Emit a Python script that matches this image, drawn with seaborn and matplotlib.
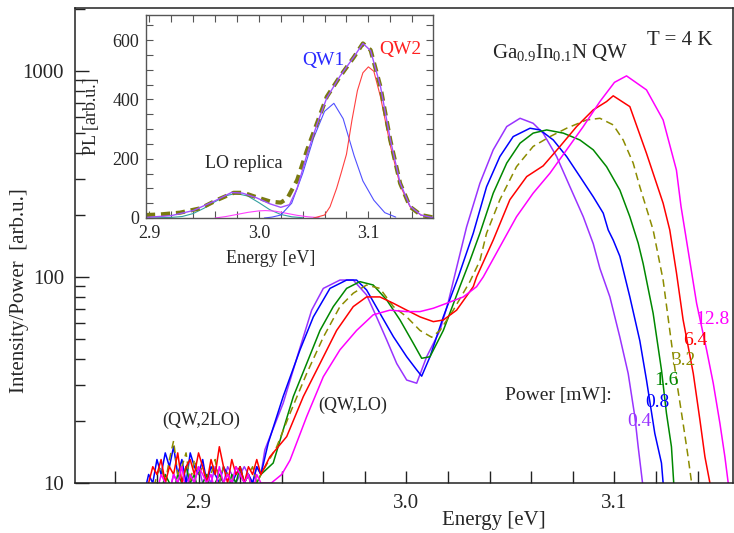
import numpy as np
import pandas as pd
import seaborn as sns
import matplotlib.pyplot as plt
from matplotlib.ticker import FixedLocator, NullFormatter

sns.set_style('ticks')
plt.rcParams['font.family'] = ['Liberation Serif', 'DejaVu Serif']
plt.rcParams['mathtext.fontset'] = 'custom'
plt.rcParams['mathtext.rm'] = 'Liberation Serif'
plt.rcParams['mathtext.it'] = 'Liberation Serif:italic'

# ---- main spectra: Intensity/Power vs energy ----
powers = ['0.4', '0.8', '1.6', '3.2', '6.4', '12.8']
colors = ['#9933ff', '#0000ff', '#008800', '#8c8c00', '#ff0000', '#ff00ff']

noise_e = [2.874, 2.876, 2.878, 2.880, 2.882, 2.884, 2.886, 2.888, 2.890, 2.892,
           2.894, 2.896, 2.898, 2.900, 2.902, 2.904, 2.906, 2.908, 2.910, 2.912,
           2.914, 2.916, 2.918, 2.920, 2.922, 2.924, 2.926, 2.928, 2.930]

noise_04 = [7, 8, 9, 8, 9, 10, 9, 11, 10, 9, 10, 11, 10, 12, 10, 11, 10, 12, 11, 10,
            12, 11, 10, 11, 12, 11, 10, 12, 11]
noise_08 = [9, 11, 10, 13, 11, 14, 12, 15, 11, 13, 10, 14, 12, 11, 13, 10, 12, 11, 10, 12,
            11, 10, 11, 12, 10, 11, 10, 12, 11]
noise_16 = [8, 9, 8, 10, 9, 11, 10, 9, 11, 10, 12, 10, 11, 9, 10, 11, 9, 10, 11, 10,
            9, 11, 10, 12, 10, 11, 9, 10, 11]
noise_32 = [8, 10, 9, 11, 12, 10, 13, 16, 11, 12, 14, 10, 13, 11, 12, 10, 11, 13, 10, 12,
            11, 10, 12, 11, 10, 11, 12, 10, 11]
noise_64 = [9, 10, 12, 11, 13, 10, 12, 11, 14, 10, 12, 13, 11, 14, 12, 10, 13, 11, 15, 12,
            10, 13, 11, 12, 10, 12, 11, 13, 11]
noise_128 = [8, 9, 10, 9, 11, 10, 9, 11, 10, 12, 9, 11, 10, 12, 11, 10, 11, 9, 12, 10,
             11, 10, 12, 11, 10, 11, 9, 11, 10]

e_04 = [2.9319, 2.9407, 2.9480, 2.9544, 2.9600, 2.9680, 2.9744, 2.9808, 2.9856, 2.9905,
        2.9953, 3.0001, 3.0049, 3.0097, 3.0161, 3.0200, 3.0230, 3.0289, 3.0353, 3.0417,
        3.0482, 3.0546, 3.0609, 3.0657, 3.0722, 3.0786, 3.0850, 3.0898, 3.0930, 3.0978,
        3.1026, 3.1066, 3.1098, 3.1114, 3.1135, 3.1145]
i_04 = [14.5, 24.4, 42.7, 69, 88, 96.6, 96.6, 81.8, 64, 49.4,
        38, 31.6, 30.5, 41, 55, 75, 100, 175, 285, 414,
        537, 589, 557, 499, 384, 274, 196, 145, 110, 80,
        51, 34, 21, 15, 10, 8]

e_08 = [2.9335, 2.9407, 2.9488, 2.9552, 2.9632, 2.9712, 2.9760, 2.9808, 2.9872, 2.9937,
        3.0001, 3.0049, 3.0073, 3.0113, 3.0177, 3.0249, 3.0321, 3.0385, 3.0449, 3.0513,
        3.0594, 3.0642, 3.0706, 3.0770, 3.0834, 3.0898, 3.0946, 3.0970, 3.0994, 3.1026,
        3.1074, 3.1122, 3.1154, 3.1194, 3.1226, 3.1234, 3.1240]
i_08 = [15.6, 26.3, 44.3, 64, 88, 96.6, 96.6, 86.5, 66.7, 51.3,
        41, 35.4, 33, 41, 64, 100, 163, 274, 384, 480,
        527, 517, 462, 384, 307, 245, 204, 169, 151, 126,
        80, 49, 31.6, 17.4, 12.5, 10, 8]

e_16 = [2.9359, 2.9407, 2.9456, 2.9520, 2.9584, 2.9648, 2.9712, 2.9776, 2.9840, 2.9905,
        2.9969, 3.0033, 3.0073, 3.0113, 3.0177, 3.0257, 3.0305, 3.0353, 3.0417, 3.0482,
        3.0546, 3.0609, 3.0674, 3.0754, 3.0834, 3.0898, 3.0962, 3.1026, 3.1074, 3.1114,
        3.1138, 3.1186, 3.1226, 3.1250, 3.1274, 3.1285, 3.1290]
i_16 = [12.5, 18.1, 26.3, 38, 55, 71.8, 88, 94.9, 91.4, 77.3,
        61.8, 47.6, 40.3, 41, 55, 90, 120, 163, 255, 357,
        446, 499, 517, 499, 462, 414, 343, 264, 196, 146,
        116, 66.6, 35.4, 21.8, 15, 10, 8]

e_32 = [2.9376, 2.9440, 2.9520, 2.9600, 2.9680, 2.9744, 2.9808, 2.9872, 2.9937, 3.0001,
        3.0065, 3.0121, 3.0161, 3.0225, 3.0305, 3.0353, 3.0385, 3.0449, 3.0529, 3.0609,
        3.0690, 3.0770, 3.0866, 3.0930, 3.0994, 3.1042, 3.1090, 3.1122, 3.1186, 3.1234,
        3.1266, 3.1298, 3.1330, 3.1354, 3.1371, 3.1380]
i_32 = [15, 21.8, 34, 51, 71.8, 83.4, 91.4, 88, 71.8, 64,
        55, 51, 55, 69, 95, 120, 163, 237, 343, 430,
        480, 527, 578, 589, 547, 462, 357, 274, 169, 96.6,
        55, 31.6, 19.5, 13.4, 10, 8]

e_64 = [2.9343, 2.9424, 2.9504, 2.9584, 2.9664, 2.9744, 2.9808, 2.9872, 2.9937, 3.0001,
        3.0065, 3.0129, 3.0177, 3.0241, 3.0321, 3.0337, 3.0417, 3.0497, 3.0578, 3.0657,
        3.0738, 3.0818, 3.0898, 3.0962, 3.0994, 3.1074, 3.1154, 3.1234, 3.1266, 3.1298,
        3.1330, 3.1379, 3.1411, 3.1435, 3.1459, 3.1470]
i_64 = [13.4, 16.8, 26.3, 38, 55, 71.8, 80, 80, 74.5, 69,
        64, 60.7, 61.8, 69, 89.7, 100, 151, 237, 307, 346,
        430, 537, 647, 710, 757, 671, 398, 228, 169, 105,
        62, 34, 20.2, 13.4, 10, 8]

e_128 = [2.9350, 2.9400, 2.9440, 2.9520, 2.9600, 2.9680, 2.9760, 2.9840, 2.9920, 3.0001,
         3.0065, 3.0129, 3.0193, 3.0273, 3.0337, 3.0369, 3.0449, 3.0529, 3.0609, 3.0690,
         3.0770, 3.0850, 3.0930, 3.1000, 3.1058, 3.1154, 3.1234, 3.1298, 3.1320, 3.1340,
         3.1395, 3.1443, 3.1475, 3.1507, 3.1531, 3.1547, 3.1555]
i_128 = [10, 11, 12.9, 21, 32.8, 44.3, 55, 65.5, 69, 67.9,
         67.9, 70.5, 74.5, 80, 89.7, 100, 140, 196, 255, 319,
         414, 537, 710, 880, 946, 809, 578, 330, 220, 165,
         74.5, 44.3, 30.5, 19.5, 13.4, 10, 8]

spectra = [(noise_04, e_04, i_04), (noise_08, e_08, i_08), (noise_16, e_16, i_16),
           (noise_32, e_32, i_32), (noise_64, e_64, i_64), (noise_128, e_128, i_128)]

# ---- inset: fit of the 3.2 mW spectrum (linear scale) ----
in_e_data = [2.897, 2.910, 2.928, 2.947, 2.962, 2.977, 2.986, 2.998, 3.011, 3.020,
             3.026, 3.035, 3.044, 3.053, 3.062, 3.074, 3.087, 3.095, 3.102, 3.111,
             3.120, 3.129, 3.138, 3.148, 3.159]
in_i_data = [10, 12, 18, 33, 61, 85, 85, 70, 55, 52,
             66, 128, 229, 319, 409, 477, 544, 589, 567, 443,
             263, 117, 38, 10, 2]
in_e_fit = [2.897, 2.920, 2.940, 2.960, 2.975, 2.985, 2.998, 3.010, 3.020, 3.028,
            3.035, 3.044, 3.053, 3.062, 3.074, 3.087, 3.095, 3.102, 3.111, 3.120,
            3.129, 3.138, 3.148, 3.159]
in_i_fit = [2, 8, 25, 58, 86, 84, 68, 48, 36, 45,
            100, 215, 315, 405, 478, 545, 589, 565, 445, 265,
            118, 40, 10, 1]
lo_e = [2.900, 2.920, 2.930, 2.940, 2.950, 2.960, 2.970, 2.979, 2.990, 3.000,
        3.010, 3.020, 3.030, 3.040]
lo_i = [0, 2, 5, 15, 33, 55, 75, 83, 74, 52, 28, 12, 4, 1]
mid_e = [2.960, 2.970, 2.980, 2.990, 3.000, 3.006, 3.015, 3.025, 3.035, 3.045, 3.055]
mid_i = [0, 5, 12, 19, 24, 25, 23, 16, 9, 4, 1]
qw1_e = [3.005, 3.012, 3.020, 3.030, 3.040, 3.050, 3.060, 3.0685, 3.077, 3.087,
         3.095, 3.105, 3.115, 3.125]
qw1_i = [0, 3, 10, 50, 150, 270, 360, 387, 335, 210, 125, 60, 18, 3]
qw2_e = [3.050, 3.060, 3.065, 3.071, 3.075, 3.080, 3.085, 3.090, 3.095, 3.100,
         3.105, 3.111, 3.120, 3.129, 3.138, 3.148, 3.159]
qw2_i = [0, 10, 38, 100, 150, 215, 330, 430, 490, 510,
         495, 410, 245, 110, 38, 10, 1]

fig = plt.figure(figsize=(7.34, 5.33), dpi=100)
ax = fig.add_axes([75 / 734, 50 / 533, 658 / 734, 475 / 533])

for (noise, e, i), p, c in zip(spectra, powers, colors):
    df = pd.DataFrame({'E': noise_e + e, 'I': noise + i})
    sns.lineplot(data=df, x='E', y='I', ax=ax, color=c, lw=1.1, sort=False,
                 estimator=None, linestyle=(0, (5, 3)) if p == '3.2' else '-')

ax.set_yscale('log')
ax.set_xlim(2.8406, 3.157)
ax.set_ylim(10, 2020)
ax.set_xticks([2.9, 3.0, 3.1])
ax.set_xticklabels(['2.9', '3.0', '3.1'])
ax.xaxis.set_minor_locator(FixedLocator([2.86, 2.88, 2.92, 2.94, 2.96, 2.98, 3.02,
                                         3.04, 3.06, 3.08, 3.12, 3.14]))
ax.set_yticks([10, 100, 1000])
ax.set_yticklabels(['10', '100', '1000'])
ax.yaxis.set_minor_formatter(NullFormatter())
ax.tick_params(axis='both', which='both', direction='in', labelsize=15, width=1,
               color='#222222')
ax.tick_params(axis='x', which='both', length=9, pad=8)
ax.tick_params(axis='y', which='major', length=10, pad=8)
ax.tick_params(axis='y', which='minor', length=7)
for s in ax.spines.values():
    s.set_linewidth(1.1)
    s.set_color('#222222')
ax.set_xlabel('Energy [eV]', fontsize=15)
ax.set_ylabel('Intensity/Power  [arb.u.]', fontsize=15)
ax.xaxis.set_label_coords(0.637, -0.06)
ax.yaxis.set_label_coords(-0.07, 0.406)

ax.text(3.0738, 1222, r'Ga$_{\mathrm{0.9}}$In$_{\mathrm{0.1}}$N QW', fontsize=15,
        ha='center', va='center')
ax.text(3.1315, 1403, 'T = 4 K', fontsize=15, ha='center', va='center')
ax.text(2.9015, 20.2, '(QW,2LO)', fontsize=13, ha='center', va='center')
ax.text(2.9743, 23.9, '(QW,LO)', fontsize=13, ha='center', va='center')
ax.text(3.0728, 26.7, 'Power [mW]:', fontsize=14, ha='center', va='center')
label_pos = [(3.1122, 19.8), (3.1204, 24.7), (3.1252, 31.6), (3.1329, 39.5),
             (3.1387, 49.4), (3.1473, 62)]
for (x, y), p, c in zip(label_pos, powers, colors):
    ax.text(x, y, p, fontsize=14, color=c, ha='center', va='center')

# inset
ins = fig.add_axes([146 / 734, 315 / 533, 287 / 734, 203 / 533])
sns.lineplot(x=lo_e, y=lo_i, ax=ins, color='#33a0a0', lw=0.8, sort=False, estimator=None)
sns.lineplot(x=mid_e, y=mid_i, ax=ins, color='#ff40ff', lw=0.8, sort=False, estimator=None)
sns.lineplot(x=qw1_e, y=qw1_i, ax=ins, color='#5050ff', lw=0.8, sort=False, estimator=None)
sns.lineplot(x=qw2_e, y=qw2_i, ax=ins, color='#ff4040', lw=0.8, sort=False, estimator=None)
ins.plot(in_e_data, in_i_data, color='#7a7a10', lw=3, ls=(0, (2.2, 1.4)))
sns.lineplot(x=in_e_fit, y=in_i_fit, ax=ins, color='#a050ff', lw=1.0, sort=False,
             estimator=None)
ins.set_xlim(2.897, 3.159)
ins.set_ylim(0, 685)
ins.set_xticks([2.9, 3.0, 3.1])
ins.set_xticklabels(['2.9', '3.0', '3.1'])
ins.xaxis.set_minor_locator(FixedLocator([2.92, 2.94, 2.96, 2.98, 3.02, 3.04, 3.06,
                                          3.08, 3.12, 3.14]))
ins.set_yticks([0, 200, 400, 600])
ins.yaxis.set_minor_locator(FixedLocator([50, 100, 150, 250, 300, 350, 450, 500,
                                          550, 650]))
ins.tick_params(axis='both', which='both', direction='in', top=True, right=True,
                labelsize=13, length=5, width=0.8, color='#555555', pad=5)
for s in ins.spines.values():
    s.set_linewidth(1.0)
    s.set_color('#555555')
ins.set_xlabel('Energy [eV]', fontsize=13)
ins.set_ylabel('PL [arb.u.]', fontsize=13)
ins.xaxis.set_label_coords(0.436, -0.16)
ins.yaxis.set_label_coords(-0.16, 0.5)
ins.text(3.059, 533, 'QW1', color='#2a2aff', fontsize=14, ha='center', va='center')
ins.text(3.129, 567, 'QW2', color='#ff2020', fontsize=14, ha='center', va='center')
ins.text(2.9866, 184, 'LO replica', fontsize=13, ha='center', va='center')

fig.savefig('out.png', dpi=100)
